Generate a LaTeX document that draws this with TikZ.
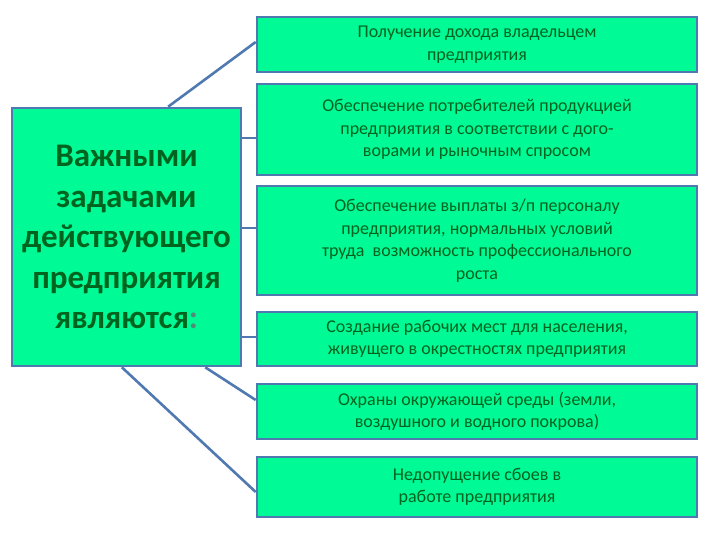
\documentclass[tikz,border=0pt]{standalone}
\usepackage{fontspec}
\setmainfont{Carlito}
\usetikzlibrary{calc,backgrounds}
\definecolor{boxfill}{RGB}{0,250,150}
\definecolor{boxline}{RGB}{79,121,176}
\definecolor{txtgreen}{RGB}{0,100,30}
\definecolor{colontone}{RGB}{80,140,120}
\tikzset{
  tbox/.style={draw=boxline, line width=2.6pt, fill=boxfill, text=txtgreen, align=center,
    inner sep=0pt, minimum width=440pt, font=\fontsize{18}{22.5}\selectfont},
  mainbox/.style={draw=boxline, line width=2.6pt, fill=boxfill, text=txtgreen, align=center,
    inner sep=0pt, minimum width=229pt, minimum height=258pt, font=\bfseries\fontsize{33}{40.5}\selectfont},
  conn/.style={draw=boxline, line width=2.6pt}
}
\begin{document}
\begin{tikzpicture}[x=1pt,y=-1pt]
\useasboundingbox (0,0) rectangle (720,540);
\node[mainbox] (lb) at (126.5,237) {Важными\\задачами\\действующего\\предприятия\\являются\textcolor{colontone}{:}};
\node[tbox, minimum height=55pt] (b1) at (477,44.5) {Получение дохода владельцем\\предприятия};
\node[tbox, minimum height=91pt] (b2) at (477,129.5) {Обеспечение потребителей продукцией\\предприятия в соответствии с дого-\\ворами и рыночным спросом};
\node[tbox, minimum height=109pt] (b3) at (477,240.5) {Обеспечение выплаты з/п персоналу\\предприятия, нормальных условий\\труда~ возможность профессионального\\роста};
\node[tbox, minimum height=54pt] (b4) at (477,339) {Создание рабочих мест для населения,\\живущего в окрестностях предприятия};
\node[tbox, minimum height=55pt] (b5) at (477,411.5) {Охраны окружающей среды (земли,\\воздушного и водного покрова)};
\node[tbox, minimum height=60pt] (b6) at (477,487) {Недопущение сбоев в\\работе предприятия};
\coordinate (s1) at ($(lb.north west)!0.68!(lb.north east)$);
\coordinate (s5) at ($(lb.south west)!0.84!(lb.south east)$);
\coordinate (s6) at ($(lb.south west)!0.48!(lb.south east)$);
\coordinate (e1) at (b1.west |- 0,42);
\coordinate (e2) at (b2.west |- 0,138);
\coordinate (e3) at (b3.west |- 0,228);
\coordinate (e4) at (b4.west |- 0,337);
\coordinate (e5) at (b5.west |- 0,400);
\coordinate (e6) at (b6.west |- 0,492);
\begin{scope}[on background layer]
\draw[conn] (s1) -- (e1);
\draw[conn] (lb.east |- e2) -- (e2);
\draw[conn] (lb.east |- e3) -- (e3);
\draw[conn] (lb.east |- e4) -- (e4);
\draw[conn] (s5) -- (e5);
\draw[conn] (s6) -- (e6);
\end{scope}
\end{tikzpicture}
\end{document}
